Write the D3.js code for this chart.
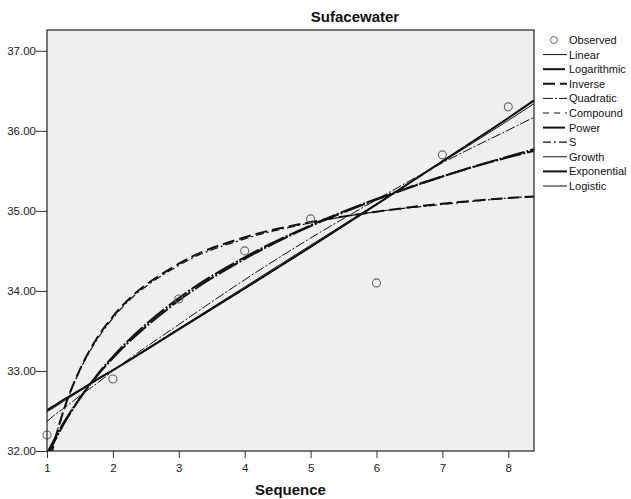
<!DOCTYPE html>
<html>
<head>
<meta charset="utf-8">
<script src="https://cdn.jsdelivr.net/npm/d3@7"></script>
<style>
  body { margin: 0; background: #fff; }
  text { font-family: "Liberation Sans", Arial, sans-serif; }
</style>
</head>
<body>
<div id="chart"></div>
<script>
// Observed points
const sequence = [1, 2, 3, 4, 5, 6, 7, 8];
const observed = [32.2, 32.9, 33.9, 34.5, 34.9, 34.1, 35.7, 36.3];

// Fitted curves at these sequence positions
const curveX      = [1, 1.1, 1.25, 1.5, 1.75, 2, 3, 4, 5, 6, 7, 8, 8.39];
const linear      = [32.49, 32.54, 32.62, 32.75, 32.88, 33.01, 33.53, 34.05, 34.57, 35.09, 35.61, 36.13, 36.34];
const logarithmic = [31.93, 32.10, 32.33, 32.66, 32.94, 33.18, 33.91, 34.42, 34.82, 35.15, 35.43, 35.67, 35.75];
const inverse     = [31.71, 32.07, 32.50, 33.02, 33.40, 33.68, 34.34, 34.67, 34.86, 34.99, 35.09, 35.16, 35.18];
const quadratic   = [32.37, 32.44, 32.53, 32.69, 32.84, 33.00, 33.58, 34.14, 34.66, 35.14, 35.60, 36.01, 36.17];
const compound    = [32.51, 32.56, 32.64, 32.76, 32.89, 33.01, 33.52, 34.03, 34.55, 35.08, 35.62, 36.16, 36.38];
const power       = [31.97, 32.13, 32.35, 32.66, 32.93, 33.16, 33.88, 34.40, 34.81, 35.14, 35.43, 35.68, 35.77];
const sCurve      = [31.75, 32.09, 32.50, 33.01, 33.38, 33.66, 34.32, 34.65, 34.85, 34.99, 35.08, 35.16, 35.18];
const growth      = compound;
const exponential = compound;
const logistic    = compound;

const seriesNames = ["Linear", "Logarithmic", "Inverse", "Quadratic", "Compound",
                     "Power", "S", "Growth", "Exponential", "Logistic"];
const seriesValues = [linear, logarithmic, inverse, quadratic, compound,
                      power, sCurve, growth, exponential, logistic];

const xTicks = [1, 2, 3, 4, 5, 6, 7, 8];
const yTicks = [32, 33, 34, 35, 36, 37];

// line styles per model
const styles = {
  "Linear":      { w: 1,   dash: null },
  "Logarithmic": { w: 2,   dash: "22,2,2,2" },
  "Inverse":     { w: 2,   dash: "12,5" },
  "Quadratic":   { w: 1,   dash: "10,2,2,2" },
  "Compound":    { w: 1.2, dash: "6,5" },
  "Power":       { w: 2,   dash: "22,2,2,2" },
  "S":           { w: 1.2, dash: "8,3,2,3" },
  "Growth":      { w: 1,   dash: null },
  "Exponential": { w: 2,   dash: null },
  "Logistic":    { w: 1,   dash: null }
};

const W = 631, H = 499;
const plot = { left: 47, right: 534, top: 30, bottom: 451 };

const svg = d3.select("#chart").append("svg")
    .attr("width", W)
    .attr("height", H);

const x = d3.scaleLinear().domain([1, 8.39]).range([plot.left, plot.right]);
const y = d3.scaleLinear().domain([32, 37.26]).range([plot.bottom, plot.top]);

svg.append("defs").append("clipPath").attr("id", "plotclip")
  .append("rect")
    .attr("x", plot.left).attr("y", plot.top)
    .attr("width", plot.right - plot.left)
    .attr("height", plot.bottom - plot.top);

// plot background
svg.append("rect")
    .attr("x", plot.left).attr("y", plot.top)
    .attr("width", plot.right - plot.left)
    .attr("height", plot.bottom - plot.top)
    .attr("fill", "#efefef");

// title
svg.append("text")
    .attr("x", 355).attr("y", 22)
    .attr("text-anchor", "middle")
    .attr("font-size", 15).attr("font-weight", "bold")
    .attr("fill", "#111")
    .text("Sufacewater");

// fitted curves
const line = d3.line()
    .x((d, i) => x(curveX[i]))
    .y(d => y(d))
    .curve(d3.curveMonotoneX);

const curves = svg.append("g").attr("clip-path", "url(#plotclip)");
seriesNames.forEach((name, k) => {
  curves.append("path")
      .datum(seriesValues[k])
      .attr("fill", "none")
      .attr("stroke", "#111")
      .attr("stroke-width", styles[name].w)
      .attr("stroke-dasharray", styles[name].dash)
      .attr("d", line);
});

// observed points
svg.append("g").selectAll("circle")
  .data(observed)
  .join("circle")
    .attr("cx", (d, i) => x(sequence[i]))
    .attr("cy", d => y(d))
    .attr("r", 4)
    .attr("fill", "none")
    .attr("stroke", "#666")
    .attr("stroke-width", 1.1);

// axes
const xAxis = svg.append("g")
    .attr("transform", `translate(0,${plot.bottom})`)
    .call(d3.axisBottom(x).tickValues(xTicks).tickFormat(d3.format("d")).tickSize(7).tickSizeOuter(0));
const yAxis = svg.append("g")
    .attr("transform", `translate(${plot.left},0)`)
    .call(d3.axisLeft(y).tickValues(yTicks).tickFormat(d3.format(".2f")).tickSize(11).tickSizeOuter(0));

[xAxis, yAxis].forEach(g => {
  g.select(".domain").remove();
  g.selectAll("line").attr("stroke", "#333");
  g.selectAll("text")
      .attr("font-family", "Liberation Sans, Arial, sans-serif")
      .attr("font-size", 11.5)
      .attr("fill", "#222");
});
xAxis.selectAll("text").attr("dy", "0.95em");
yAxis.selectAll("text").attr("x", -11);

// frame
svg.append("rect")
    .attr("x", plot.left).attr("y", plot.top)
    .attr("width", plot.right - plot.left)
    .attr("height", plot.bottom - plot.top)
    .attr("fill", "none")
    .attr("stroke", "#222")
    .attr("stroke-width", 1.2);

// x axis title
svg.append("text")
    .attr("x", (plot.left + plot.right) / 2).attr("y", 495)
    .attr("text-anchor", "middle")
    .attr("font-size", 15).attr("font-weight", "bold")
    .attr("fill", "#111")
    .text("Sequence");

// legend
const legendTop = 40, legendStep = 14.6;
const legend = svg.append("g").attr("font-size", 11).attr("fill", "#111");

legend.append("circle")
    .attr("cx", 554).attr("cy", legendTop)
    .attr("r", 3.5)
    .attr("fill", "none")
    .attr("stroke", "#666");
legend.append("text")
    .attr("x", 569).attr("y", legendTop + 4)
    .text("Observed");

seriesNames.forEach((name, k) => {
  const ly = legendTop + (k + 1) * legendStep;
  legend.append("line")
      .attr("x1", 543).attr("x2", 567)
      .attr("y1", ly).attr("y2", ly)
      .attr("stroke", "#111")
      .attr("stroke-width", styles[name].w)
      .attr("stroke-dasharray", styles[name].dash);
  legend.append("text")
      .attr("x", 569).attr("y", ly + 4)
      .text(name);
});
</script>
</body>
</html>
